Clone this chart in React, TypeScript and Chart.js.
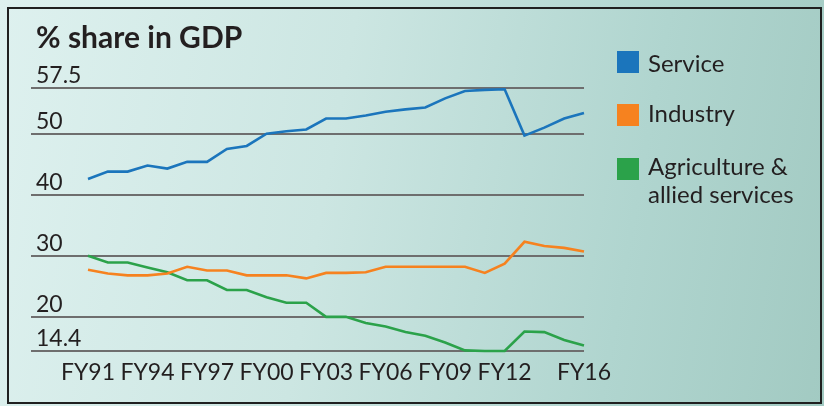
import React, { useEffect, useRef } from "react";
import { Chart, registerables } from "chart.js";

Chart.register(...registerables);

const categories = [
  "FY91", "FY92", "FY93", "FY94", "FY95", "FY96", "FY97", "FY98", "FY99", "FY00",
  "FY01", "FY02", "FY03", "FY04", "FY05", "FY06", "FY07", "FY08", "FY09", "FY10",
  "FY11", "FY12", "FY13", "FY14", "FY15", "FY16",
];
const tickLabels = ["FY91", "FY94", "FY97", "FY00", "FY03", "FY06", "FY09", "FY12", "FY16"];
const yTicks = [14.4, 20, 30, 40, 50, 57.5];

const service = [42.6, 43.8, 43.8, 44.8, 44.3, 45.4, 45.4, 47.5, 48.0, 50.0, 50.4, 50.7, 52.5, 52.5, 53.0, 53.6, 54.0, 54.3, 55.8, 57.0, 57.2, 57.3, 49.7, 51.0, 52.5, 53.4];
const industry = [27.7, 27.1, 26.8, 26.8, 27.1, 28.2, 27.6, 27.6, 26.8, 26.8, 26.8, 26.3, 27.2, 27.2, 27.3, 28.2, 28.2, 28.2, 28.2, 28.2, 27.2, 28.7, 32.3, 31.6, 31.3, 30.7];
const agriculture = [30.0, 28.9, 28.9, 28.1, 27.3, 26.0, 26.0, 24.4, 24.4, 23.2, 22.3, 22.3, 20.0, 20.0, 19.0, 18.4, 17.5, 16.9, 15.8, 14.5, 14.4, 14.4, 17.6, 17.5, 16.2, 15.3];

const seriesNames = ["Service", "Industry", "Agriculture &\nallied services"];
const seriesColors = ["#1b75bc", "#f6821f", "#2ba24a"];
const seriesData = [service, industry, agriculture];

const TEXT = "#231f20";
const FONT = "Lato, 'Open Sans', sans-serif";

export default function App() {
  const canvasRef = useRef<HTMLCanvasElement | null>(null);

  useEffect(() => {
    document.body.style.margin = "0";
    const canvas = canvasRef.current;
    if (!canvas) return;
    const chart = new Chart(canvas, {
      type: "line",
      data: {
        datasets: seriesData.map((arr, k) => ({
          label: seriesNames[k],
          data: arr.map((v, i) => ({ x: i, y: v })),
          borderColor: seriesColors[k],
          backgroundColor: seriesColors[k],
          borderWidth: 2.6,
          pointRadius: 0,
          tension: 0,
          clip: false as any,
        })),
      },
      options: {
        animation: false,
        responsive: true,
        maintainAspectRatio: false,
        layout: { padding: { left: 31, right: 240, top: 88, bottom: 0 } },
        plugins: { legend: { display: false }, tooltip: { enabled: false }, title: { display: false } },
        scales: {
          x: {
            type: "linear",
            min: -2.873,
            max: 25,
            grid: { display: false, drawTicks: false },
            border: { display: false },
            afterBuildTicks: (axis: any) => {
              axis.ticks = tickLabels.map((l) => ({ value: categories.indexOf(l) }));
            },
            afterFit: (axis: any) => {
              axis.height = 55;
            },
            ticks: {
              autoSkip: false,
              maxRotation: 0,
              padding: 8,
              color: TEXT,
              font: { family: FONT, size: 23 },
              callback: (v: any) => categories[Math.round(Number(v))] ?? "",
            },
          },
          y: {
            type: "linear",
            min: 14.4,
            max: 57.5,
            grid: { color: "#6e6e6e", lineWidth: 2, drawTicks: false },
            border: { display: false },
            afterBuildTicks: (axis: any) => {
              axis.ticks = yTicks.map((v) => ({ value: v }));
            },
            afterFit: (axis: any) => {
              axis.width = 0;
            },
            ticks: {
              mirror: true,
              padding: 5,
              labelOffset: -12,
              color: TEXT,
              font: { family: FONT, size: 23 },
              callback: (v: any) => String(v),
            },
          },
        },
      },
    });
    return () => chart.destroy();
  }, []);

  const legendTops = [49, 99, 152];
  const boxTops = [51, 104, 158];

  return (
    <div
      style={{
        position: "relative",
        width: 824,
        height: 406,
        overflow: "hidden",
        background: "linear-gradient(100deg, #def1ef 0%, #cce6e2 40%, #b0d5cf 75%, #a2cac2 100%)",
        fontFamily: FONT,
        color: TEXT,
      }}
    >
      <div
        style={{
          position: "absolute",
          left: 7,
          top: 7,
          width: 815,
          height: 397,
          boxSizing: "border-box",
          border: "2.5px solid #202020",
        }}
      />
      <div style={{ position: "absolute", left: 0, top: 0, width: 824, height: 406 }}>
        <canvas ref={canvasRef} />
      </div>
      <div
        style={{
          position: "absolute",
          left: 36,
          top: 21,
          fontSize: 30,
          lineHeight: "30px",
          fontWeight: 700,
          whiteSpace: "nowrap",
        }}
      >
        % share in GDP
      </div>
      {seriesNames.map((name, k) => (
        <React.Fragment key={name}>
          <div
            style={{
              position: "absolute",
              left: 617,
              top: boxTops[k],
              width: 22,
              height: 22,
              background: seriesColors[k],
            }}
          />
          <div
            style={{
              position: "absolute",
              left: 648,
              top: legendTops[k],
              fontSize: 24,
              lineHeight: "28px",
              whiteSpace: "pre",
            }}
          >
            {name}
          </div>
        </React.Fragment>
      ))}
    </div>
  );
}
